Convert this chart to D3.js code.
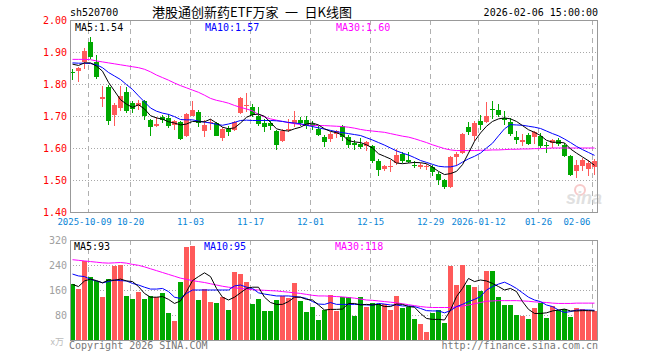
<!DOCTYPE html>
<html><head><meta charset="utf-8">
<script src="https://cdn.jsdelivr.net/npm/d3@7/dist/d3.min.js"></script>
<style>html,body{margin:0;padding:0;background:#fff;}svg{display:block;}</style>
</head><body>
<svg id="chart" width="660" height="360"></svg>
<script>
// ---------- DATA ----------
const dates = ["2025-09-26","2025-09-29","2025-09-30","2025-10-09","2025-10-10","2025-10-13","2025-10-14","2025-10-15","2025-10-16","2025-10-17",
"2025-10-20","2025-10-21","2025-10-22","2025-10-23","2025-10-24","2025-10-27","2025-10-28","2025-10-29","2025-10-30","2025-10-31",
"2025-11-03","2025-11-04","2025-11-05","2025-11-06","2025-11-07","2025-11-10","2025-11-11","2025-11-12","2025-11-13","2025-11-14",
"2025-11-17","2025-11-18","2025-11-19","2025-11-20","2025-11-21","2025-11-24","2025-11-25","2025-11-26","2025-11-27","2025-11-28",
"2025-12-01","2025-12-02","2025-12-03","2025-12-04","2025-12-05","2025-12-08","2025-12-09","2025-12-10","2025-12-11","2025-12-12",
"2025-12-15","2025-12-16","2025-12-17","2025-12-18","2025-12-19","2025-12-22","2025-12-23","2025-12-24","2025-12-25","2025-12-26",
"2025-12-29","2025-12-30","2025-12-31","2026-01-05","2026-01-06","2026-01-07","2026-01-08","2026-01-09",
"2026-01-12","2026-01-13","2026-01-14","2026-01-15","2026-01-16","2026-01-19","2026-01-20","2026-01-21","2026-01-22","2026-01-23",
"2026-01-26","2026-01-27","2026-01-28","2026-01-29","2026-01-30","2026-02-02","2026-02-03","2026-02-04","2026-02-05","2026-02-06"];

const open = [1.837,1.842,1.868,1.932,1.869,1.753,1.790,1.702,1.724,1.775,
1.741,1.732,1.748,1.688,1.670,1.697,1.695,1.671,1.680,1.639,
1.701,1.711,1.652,1.678,1.678,1.631,1.659,1.655,1.710,1.731,
1.728,1.701,1.678,1.678,1.652,1.621,1.657,1.678,1.689,1.689,
1.675,1.660,1.633,1.629,1.645,1.668,1.634,1.616,1.614,1.605,
1.605,1.560,1.534,1.541,1.553,1.582,1.564,1.548,1.541,1.541,
1.541,1.520,1.499,1.478,1.572,1.584,1.666,1.636,1.683,1.681,
1.722,1.720,1.693,1.680,1.633,1.619,1.640,1.634,1.636,1.608,
1.616,1.626,1.610,1.576,1.529,1.543,1.535,1.541];
const high = [1.846,1.854,1.912,1.948,1.890,1.793,1.798,1.741,1.793,1.791,
1.748,1.749,1.751,1.692,1.697,1.704,1.706,1.689,1.683,1.709,
1.746,1.718,1.689,1.691,1.681,1.665,1.668,1.685,1.758,1.773,
1.739,1.728,1.691,1.685,1.657,1.659,1.691,1.717,1.697,1.699,
1.683,1.668,1.642,1.649,1.657,1.671,1.642,1.626,1.631,1.621,
1.610,1.566,1.548,1.564,1.597,1.586,1.586,1.558,1.553,1.551,
1.548,1.524,1.503,1.574,1.586,1.647,1.680,1.683,1.704,1.743,
1.746,1.739,1.715,1.694,1.652,1.644,1.647,1.652,1.647,1.618,
1.628,1.631,1.616,1.579,1.564,1.569,1.564,1.566];
const low = [1.811,1.805,1.847,1.878,1.816,1.727,1.673,1.668,1.716,1.709,
1.710,1.718,1.689,1.636,1.665,1.678,1.663,1.655,1.626,1.633,
1.699,1.665,1.634,1.655,1.636,1.623,1.636,1.652,1.705,1.711,
1.696,1.668,1.649,1.655,1.593,1.618,1.651,1.665,1.668,1.660,
1.657,1.639,1.603,1.620,1.631,1.621,1.600,1.593,1.598,1.590,
1.553,1.511,1.527,1.524,1.548,1.553,1.553,1.538,1.534,1.532,
1.511,1.484,1.472,1.475,1.545,1.582,1.640,1.623,1.657,1.678,
1.691,1.697,1.673,1.636,1.613,1.605,1.610,1.613,1.600,1.584,
1.600,1.605,1.572,1.514,1.506,1.527,1.511,1.517];
const close = [1.835,1.849,1.902,1.884,1.821,1.760,1.683,1.735,1.763,1.715,
1.723,1.741,1.699,1.667,1.675,1.689,1.669,1.685,1.629,1.706,
1.720,1.678,1.671,1.681,1.639,1.660,1.649,1.681,1.755,1.733,
1.704,1.675,1.665,1.670,1.610,1.654,1.660,1.689,1.678,1.668,
1.668,1.642,1.618,1.645,1.652,1.634,1.610,1.608,1.603,1.618,
1.558,1.530,1.543,1.545,1.579,1.558,1.555,1.543,1.546,1.545,
1.524,1.501,1.477,1.571,1.582,1.645,1.650,1.678,1.671,1.699,
1.718,1.702,1.688,1.644,1.624,1.624,1.614,1.649,1.605,1.605,
1.624,1.613,1.574,1.517,1.548,1.561,1.553,1.558];

// moving averages
const ma5 = [1.862,1.858,1.866,1.866,1.856,1.840,1.805,1.778,1.751,1.737,
1.727,1.735,1.722,1.701,1.694,1.690,1.682,1.678,1.672,1.675,
1.683,1.682,1.682,1.690,1.678,1.665,1.660,1.663,1.678,1.696,
1.704,1.706,1.699,1.680,1.660,1.655,1.653,1.660,1.665,1.675,
1.678,1.672,1.660,1.652,1.648,1.640,1.623,1.619,1.617,1.610,
1.600,1.582,1.574,1.566,1.553,1.551,1.553,1.555,1.554,1.551,
1.540,1.527,1.517,1.520,1.527,1.548,1.584,1.621,1.647,1.668,
1.683,1.691,1.694,1.691,1.683,1.670,1.657,1.649,1.639,1.624,
1.618,1.618,1.616,1.597,1.584,1.572,1.560,1.546];
const ma10 = [1.866,1.865,1.865,1.864,1.860,1.851,1.836,1.825,1.814,1.798,
1.783,1.763,1.744,1.725,1.715,1.709,1.705,1.698,1.689,1.688,
1.688,1.684,1.681,1.678,1.674,1.671,1.675,1.680,1.686,1.687,
1.686,1.686,1.686,1.686,1.685,1.683,1.680,1.678,1.676,1.671,
1.667,1.663,1.659,1.655,1.651,1.648,1.645,1.642,1.639,1.632,
1.625,1.617,1.609,1.600,1.591,1.584,1.578,1.570,1.561,1.555,
1.549,1.543,1.541,1.541,1.545,1.556,1.566,1.574,1.584,1.600,
1.615,1.638,1.660,1.673,1.672,1.671,1.668,1.665,1.661,1.653,
1.645,1.638,1.628,1.617,1.605,1.595,1.586,1.577];
const ma30 = [1.877,1.877,1.877,1.876,1.872,1.869,1.866,1.863,1.860,1.857,
1.854,1.851,1.846,1.838,1.828,1.820,1.812,1.803,1.795,1.788,
1.781,1.774,1.765,1.755,1.749,1.745,1.740,1.733,1.727,1.722,
1.716,1.705,1.697,1.691,1.687,1.683,1.679,1.676,1.673,1.672,
1.671,1.670,1.670,1.669,1.668,1.667,1.665,1.662,1.658,1.655,
1.653,1.651,1.649,1.645,1.641,1.637,1.634,1.629,1.623,1.617,
1.610,1.604,1.598,1.594,1.592,1.592,1.592,1.592,1.593,1.593,
1.594,1.594,1.595,1.596,1.596,1.597,1.597,1.598,1.598,1.599,
1.600,1.600,1.600,1.600,1.600,1.600,1.600,1.600];

const volume = [179,163,253,203,190,138,195,238,241,141,
131,155,131,141,137,150,86,62,187,299,
302,129,162,123,118,138,97,219,212,187,
115,131,94,94,129,141,134,183,126,90,
106,65,95,144,93,137,139,78,139,107,
117,114,114,96,141,103,107,67,51,26,
87,96,54,238,176,241,176,170,158,221,
221,138,112,112,80,77,67,102,118,70,
108,96,99,75,104,100,94,92];
const vma5 = [178,171,189,195,190,183,192,191,195,189,
187,171,149,137,137,139,130,117,125,155,
190,203,215,203,165,137,128,137,151,165,
169,169,137,120,114,114,123,137,137,130,
128,112,96,98,98,99,117,117,112,114,
112,114,107,107,115,114,107,105,85,69,
66,66,64,96,139,165,197,187,192,189,
181,171,160,165,155,123,98,85,85,87,
93,96,99,93,93,94,94,93];
const vma10 = [211,205,203,194,189,183,187,192,190,189,
181,176,169,163,163,165,155,137,133,149,
160,160,160,160,160,160,160,173,176,169,
165,151,147,144,141,141,141,139,137,133,
123,115,114,120,114,114,114,114,114,112,
112,117,115,112,112,109,109,107,101,94,
93,93,87,94,107,114,123,130,139,160,
171,179,185,176,165,151,137,128,123,112,
107,96,88,91,96,96,96,95];
const vma30 = [257,255,253,251,249,247,246,247,248,246,
242,239,234,228,222,216,210,204,198,194,
190,187,184,180,176,172,169,167,165,163,
161,160,159,158,157,155,153,151,149,146,
143,141,141,140,139,138,136,134,131,128,
127,125,123,121,119,116,113,110,107,105,
104,104,104,104,106,109,112,116,120,124,
125,126,126,126,126,125,124,122,121,120,
118,117,117,117,118,118,118,118];

const priceTicks = [2.00,1.90,1.80,1.70,1.60,1.50,1.40];
const volTicks = [320,240,160,80];
const tickDates = ["2025-10-09","2025-10-20","2025-11-03","2025-11-17","2025-12-01","2025-12-15","2025-12-29","2026-01-12","2026-01-26","2026-02-06"];
const tickLabels = ["2025-10-09","10-20","11-03","11-17","12-01","12-15","12-29","2026-01-12","01-26","02-06"];

const code = "sh520700";
const title = "港股通创新药ETF万家\u2002一\u2002日K线图";
const stamp = "2026-02-06 15:00:00";
const maLabels = ["MA5:1.54","MA10:1.57","MA30:1.60"];
const vmaLabels = ["MA5:93","MA10:95","MA30:118"];

// ---------- DRAW ----------
const svg = d3.select("#chart");
const L = 70, R = 598;
const mono = "'DejaVu Sans Mono', monospace";
const UP = "#ff5a5a", DOWN = "#00a800";
const C5 = "#000000", C10 = "#0000ff", C30 = "#ff00ff";

const x = d3.scalePoint().domain(dates).range([72.5, 594.5]);
const y = d3.scaleLinear().domain([1.40, 2.00]).range([212, 20]);
const yv = d3.scaleLinear().domain([0, 320]).range([340, 240]);

function panel(top, bottom, ticks, scale, labelColor, fmt) {
  const g = svg.append("g");
  g.selectAll("line.h").data(ticks).enter().append("line")
    .attr("x1", L).attr("x2", R)
    .attr("y1", d => Math.round(scale(d)) + 0.5).attr("y2", d => Math.round(scale(d)) + 0.5)
    .attr("stroke", "#a8a8a8").attr("stroke-dasharray", "1,2").attr("shape-rendering", "crispEdges");
  g.selectAll("line.v").data(tickDates).enter().append("line")
    .attr("x1", d => x(d) - 2).attr("x2", d => x(d) - 2)
    .attr("y1", top).attr("y2", bottom)
    .attr("stroke", "#b0b0b0").attr("stroke-dasharray", "5,4").attr("shape-rendering", "crispEdges");
  g.selectAll("text.yl").data(ticks).enter().append("text")
    .attr("x", 67).attr("y", d => scale(d)).attr("dy", "0.36em")
    .attr("text-anchor", "end").attr("font-family", mono).attr("font-size", "10px")
    .attr("fill", labelColor).text(fmt);
  return g;
}

panel(20, 212, priceTicks, y, "#ff0000", d => d.toFixed(2));
panel(240, 340, volTicks, yv, "#a0a0a0", d => d);

// x tick labels
svg.selectAll("text.xl").data(tickDates).enter().append("text")
  .attr("x", (d, i) => i === 0 ? x(d) - 6 : (i === tickDates.length - 1 ? x(d) - 4 : x(d) - 2))
  .attr("y", 225)
  .attr("text-anchor", (d, i) => i === tickDates.length - 1 ? "end" : "middle")
  .attr("font-family", mono).attr("font-size", "9px").attr("fill", "#0a84d6")
  .text((d, i) => tickLabels[i]);

// watermark
const wm = svg.append("g").attr("opacity", 0.55);
wm.append("circle").attr("cx", 580).attr("cy", 190).attr("r", 5).attr("fill", "none").attr("stroke", "#f2a0a0").attr("stroke-width", 2);
wm.append("text").attr("x", 566).attr("y", 204).attr("font-family", "'Liberation Sans', Arial, sans-serif")
  .attr("font-size", "18px").attr("font-style", "italic").attr("font-weight", "bold").attr("fill", "#c8c8c8").text("sina");

// candles
const cg = svg.append("g");
dates.forEach((d, i) => {
  const up = close[i] >= open[i];
  const col = up ? UP : DOWN;
  const cx = x(d);
  cg.append("line").attr("x1", cx).attr("x2", cx)
    .attr("y1", y(high[i])).attr("y2", y(low[i]))
    .attr("stroke", col).attr("stroke-width", 1).attr("shape-rendering", "crispEdges");
  const yTop = y(Math.max(open[i], close[i]));
  const h = Math.max(1, Math.abs(y(open[i]) - y(close[i])));
  cg.append("rect").attr("x", cx - 2.5).attr("y", yTop).attr("width", 5).attr("height", h)
    .attr("fill", col).attr("shape-rendering", "crispEdges");
});

// volume bars
svg.append("g").selectAll("rect").data(dates).enter().append("rect")
  .attr("x", d => x(d) - 2.5).attr("width", 5)
  .attr("y", (d, i) => yv(volume[i])).attr("height", (d, i) => 340 - yv(volume[i]))
  .attr("fill", (d, i) => close[i] >= open[i] ? UP : DOWN)
  .attr("shape-rendering", "crispEdges");

// MA lines
function maLine(vals, scale, color) {
  const line = d3.line().x((d, i) => x(dates[i])).y(d => scale(d));
  svg.append("path").datum(vals).attr("d", line).attr("fill", "none")
    .attr("stroke", color).attr("stroke-width", 1);
}
maLine(ma30, y, C30); maLine(ma10, y, C10); maLine(ma5, y, C5);
maLine(vma30, yv, C30); maLine(vma10, yv, C10); maLine(vma5, yv, C5);

// panel borders
[[20, 212], [240, 340]].forEach(([t, b]) => {
  svg.append("rect").attr("x", L + 0.5).attr("y", t + 0.5).attr("width", R - L - 1).attr("height", b - t)
    .attr("fill", "none").attr("stroke", "#999").attr("shape-rendering", "crispEdges");
});

// header
svg.append("text").attr("x", 70).attr("y", 16).attr("font-family", mono).attr("font-size", "10px").attr("fill", "#000").text(code);
svg.append("text").attr("x", 252).attr("y", 17).attr("text-anchor", "middle")
  .attr("font-family", "'Noto Sans CJK SC', sans-serif").attr("font-size", "13px").attr("fill", "#000").text(title);
svg.append("text").attr("x", 598).attr("y", 16).attr("text-anchor", "end").attr("font-family", mono).attr("font-size", "10px").attr("fill", "#000").text(stamp);

// MA legends
const legX = [75, 205, 336], legC = [C5, C10, C30];
maLabels.forEach((t, i) => svg.append("text").attr("x", legX[i]).attr("y", 31).attr("font-family", mono).attr("font-size", "10px").attr("fill", legC[i]).text(t));
vmaLabels.forEach((t, i) => svg.append("text").attr("x", legX[i] - 1).attr("y", 250).attr("font-family", mono).attr("font-size", "10px").attr("fill", legC[i]).text(t));

// footer
svg.append("text").attr("x", 64).attr("y", 345).attr("text-anchor", "end").attr("font-family", "'Noto Sans CJK SC', sans-serif").attr("font-size", "9px").attr("fill", "#bbb").text("x万");
svg.append("text").attr("x", 69).attr("y", 349).attr("font-family", mono).attr("font-size", "10px").attr("fill", "#777").text("Copyright 2026 SINA.COM");
svg.append("text").attr("x", 598).attr("y", 349).attr("text-anchor", "end").attr("font-family", mono).attr("font-size", "10px").attr("fill", "#777").text("http://finance.sina.com.cn");
</script>
</body></html>
